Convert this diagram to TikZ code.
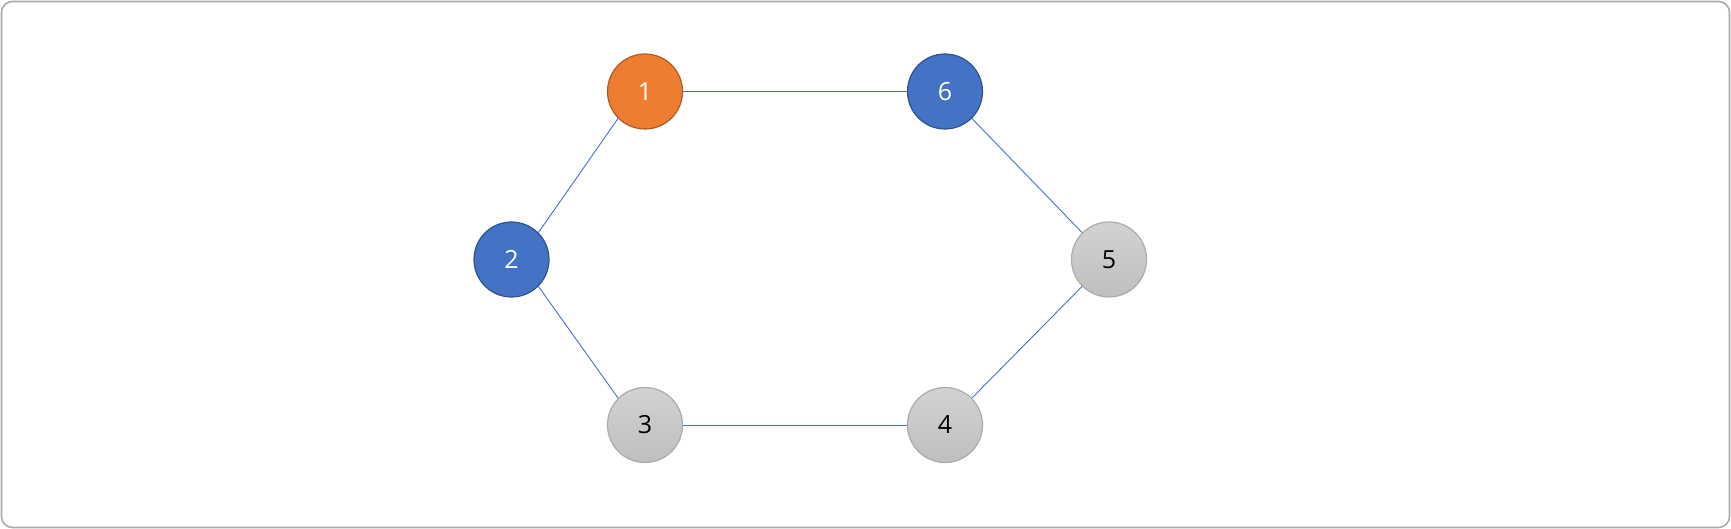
\documentclass[tikz,border=0pt]{standalone}
\usepackage{fontspec}
\setmainfont{Open Sans}
\usetikzlibrary{
    calc,
    shadings
}
\definecolor{accOrange}{HTML}{ED7D31}
\definecolor{accOrangeD}{HTML}{AE5A21}
\definecolor{accBlue}{HTML}{4472C4}
\definecolor{accBlueD}{HTML}{2F528F}
\definecolor{greyTop}{HTML}{D2D2D2}
\definecolor{greyBot}{HTML}{BFBFBF}
\definecolor{greyLine}{HTML}{ABABAB}
\tikzset{
  vertex/.style={
    circle,
    minimum size=75pt,
    inner sep=0pt,
    line width=1.2pt,
    font=\fontsize{25}{25}\selectfont
  },
  hot/.style={vertex, fill=accOrange, draw=accOrangeD, text=white},
  cold/.style={vertex, fill=accBlue, draw=accBlueD, text=white},
  idle/.style={vertex, top color=greyTop, bottom color=greyBot, draw=greyLine, text=black},
  link/.style={accBlue, line width=0.9pt}
}

\begin{document}
\begin{tikzpicture}[x=1pt,y=-1pt]
    % frame
    \useasboundingbox (0,0) rectangle (1731,529);
    \draw[greyLine, line width=1.6pt, rounded corners=11pt] (1.5,1.5) rectangle (1729.5,527.5);

    % vertices
    \node[hot]  (n1) at (645,91.5) {1};
    \node[cold] (n2) at (511.5,259.5) {2};
    \node[idle] (n3) at (645,425) {3};
    \node[idle] (n4) at (945,425) {4};
    \node[idle] (n5) at (1109,259.5) {5};
    \node[cold] (n6) at (945,91.5) {6};

    % edges (connection points at the diagonals)
    \draw[link] (n1.east) -- (n6.west);
    \draw[link] (n6.-45) -- (n5.135);
    \draw[link] (n5.-135) -- (n4.45);
    \draw[link] (n4.west) -- (n3.east);
    \draw[link] (n3.135) -- (n2.-45);
    \draw[link] (n2.45) -- (n1.-135);
\end{tikzpicture}
\end{document}
